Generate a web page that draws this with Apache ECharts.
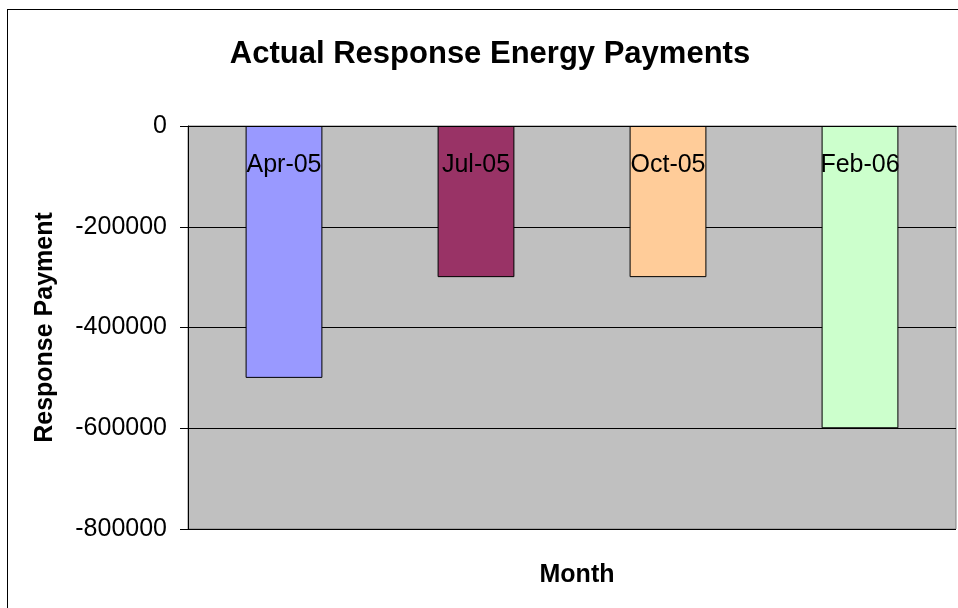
<!DOCTYPE html>
<html>
<head>
<meta charset="utf-8">
<script src="https://cdn.jsdelivr.net/npm/echarts@6/dist/echarts.min.js"></script>
<style>
  html, body { margin: 0; padding: 0; background: #fff; }
  #chart { width: 958px; height: 608px; }
  #frame { position: absolute; left: 7px; top: 9px; width: 960px; height: 610px; border: 1px solid #000; pointer-events: none; }
</style>
</head>
<body>
<div id="chart"></div>
<div id="frame"></div>
<script>
var months = ['Apr-05', 'Jul-05', 'Oct-05', 'Feb-06'];
var payments = [-500000, -300000, -300000, -600000];
var barColors = ['#9999FF', '#993366', '#FFCC99', '#CCFFCC'];

var chart = echarts.init(document.getElementById('chart'));

// 每根柱子单独上色
var barData = payments.map(function (v, i) {
    return { value: v, itemStyle: { color: barColors[i] } };
});

var font = 'Liberation Sans, Arial, sans-serif';

var option = {
    animation: false,
    title: [{
        text: 'Actual Response Energy Payments',
        left: 485,
        top: 34,
        textAlign: 'center',
        textStyle: { fontFamily: font, fontSize: 31, fontWeight: 'bold', color: '#000' }
    }, {
        text: 'Month',
        left: 572,
        top: 558,
        textAlign: 'center',
        textStyle: { fontFamily: font, fontSize: 25, fontWeight: 'bold', color: '#000' }
    }],
    grid: {
        left: 188,
        right: 2,
        top: 126,
        bottom: 79,
        show: true,
        backgroundColor: '#C0C0C0',
        borderColor: '#808080',
        borderWidth: 1
    },
    xAxis: {
        type: 'category',
        data: months,
        position: 'top',
        z: 10, // 标签画在柱子上面
        axisLine: { lineStyle: { color: '#000', width: 1 } },
        axisTick: { inside: true, length: 6, lineStyle: { color: '#000' } },
        axisLabel: { inside: true, margin: 27, fontFamily: font, fontSize: 25, color: '#000' },
        splitLine: { show: false }
    },
    yAxis: {
        type: 'value',
        min: -800000,
        max: 0,
        interval: 200000,
        name: 'Response Payment',
        nameLocation: 'middle',
        nameGap: 130,
        nameRotate: 90,
        nameTextStyle: { fontFamily: font, fontSize: 25, fontWeight: 'bold', color: '#000' },
        axisLine: { show: true, lineStyle: { color: '#000' } },
        axisTick: { show: true, length: 8, lineStyle: { color: '#000' } },
        axisLabel: {
            margin: 21, fontFamily: font, fontSize: 25, color: '#000',
            formatter: function (v) { return String(v); }
        },
        splitLine: { show: true, lineStyle: { color: '#000', width: 1 } }
    },
    series: [{
        type: 'bar',
        data: barData,
        barWidth: '40%',
        itemStyle: { borderColor: '#000', borderWidth: 1 }
    }]
};
chart.setOption(option);
</script>
</body>
</html>
